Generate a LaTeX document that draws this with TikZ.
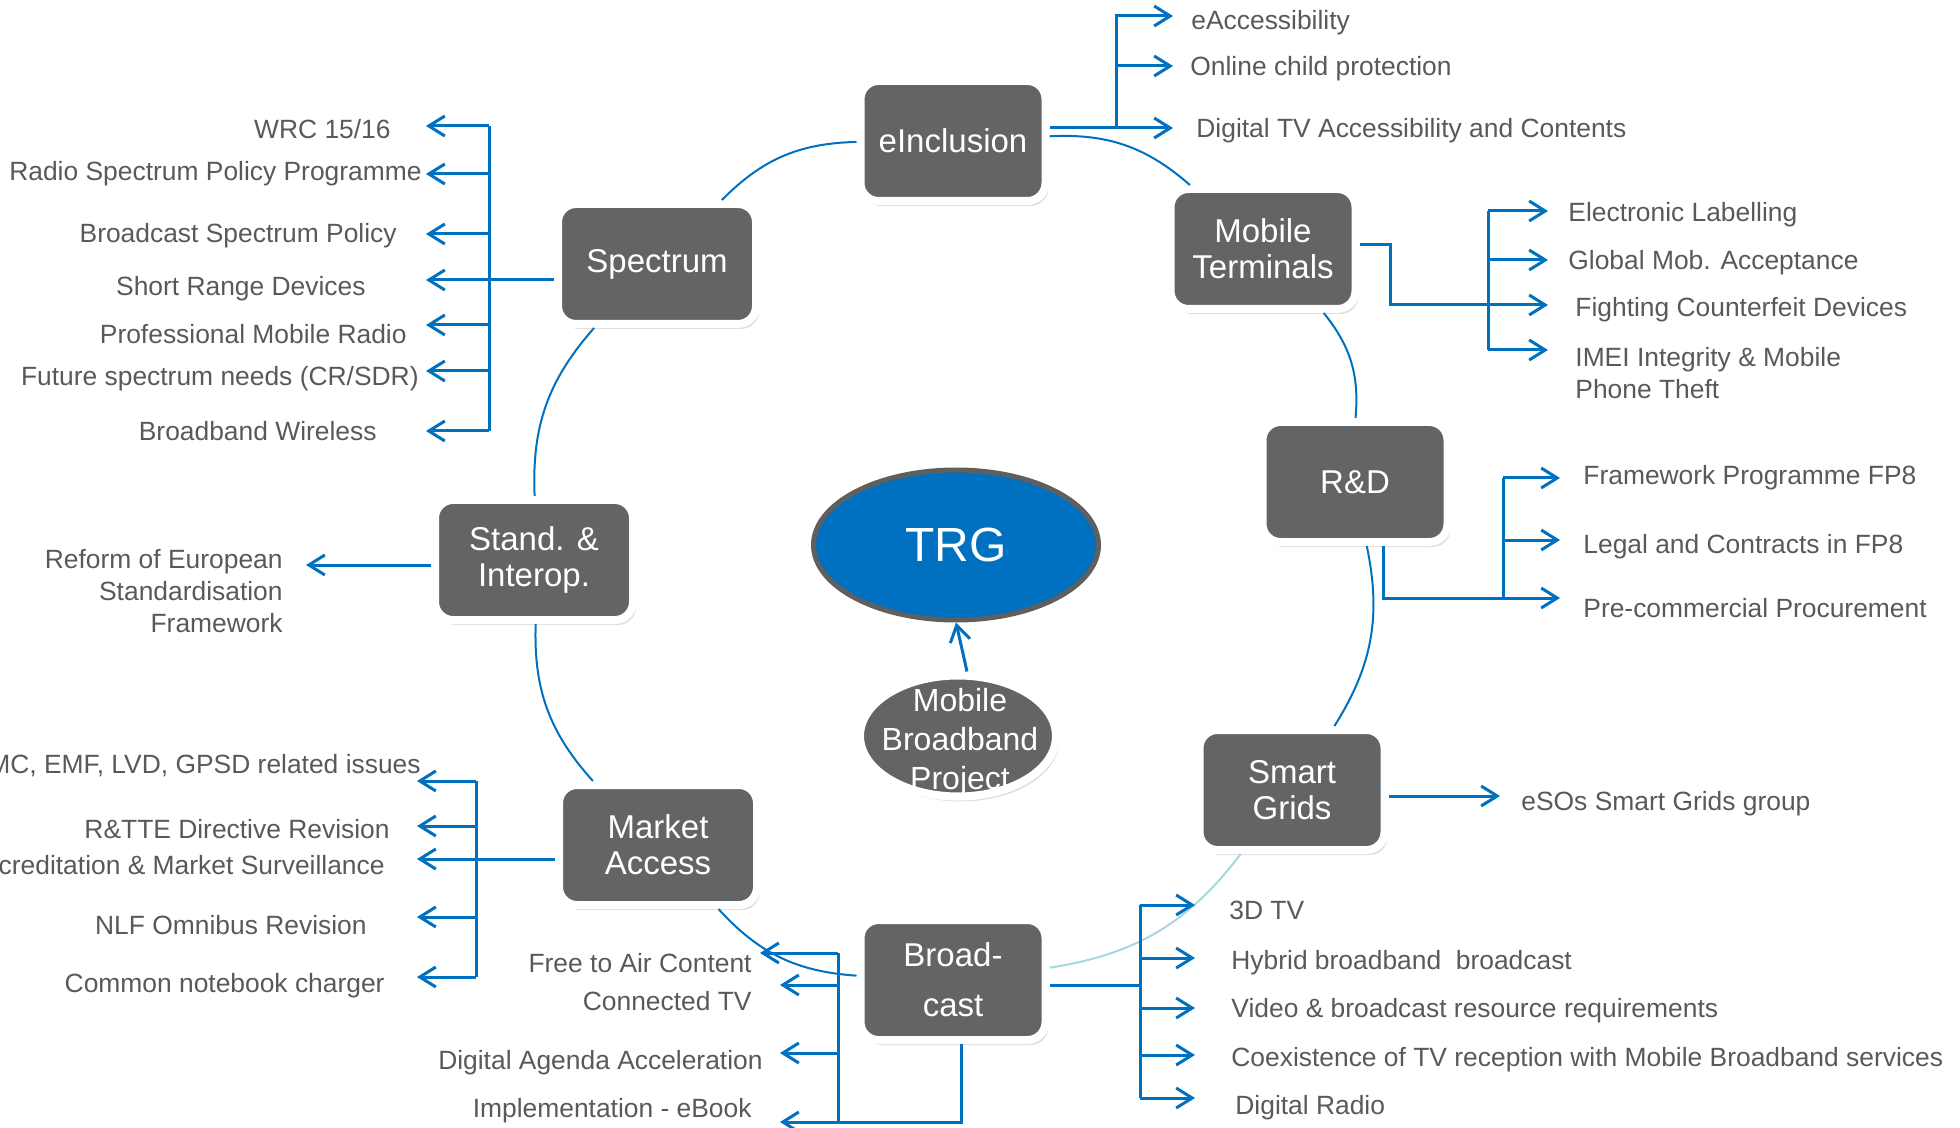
\documentclass[tikz,border=0pt]{standalone}
\usepackage{fontspec}
\setmainfont{Liberation Sans}
\usetikzlibrary{arrows.meta,shapes.geometric,shadows}
\definecolor{trgblue}{RGB}{0,112,192}
\definecolor{boxgray}{RGB}{99,100,102}
\definecolor{txtgray}{RGB}{89,89,89}
\definecolor{ringgray}{RGB}{95,95,95}
\definecolor{arcteal}{RGB}{166,214,222}
\tikzset{
  tbox/.style={rectangle, rounded corners=9pt, fill=boxgray, draw=white,
    line width=4pt, text=white, align=center, inner sep=0pt,
    minimum width=92.5pt, minimum height=60pt,
    font=\fontsize{16.5}{18}\selectfont,
    drop shadow={shadow xshift=1.5pt, shadow yshift=-2.5pt, opacity=0.25}},
  tboxw/.style={tbox, minimum width=99pt},
  lbl/.style={text=txtgray, inner sep=0pt, yshift=-1.5pt, font=\fontsize{13.2}{16}\selectfont},
  branch/.style={draw=trgblue, line width=1.5pt},
  arr/.style={branch, -{Straight Barb[length=8pt,width=10pt]}},
  ring/.style={draw=trgblue, line width=1pt},
}
\begin{document}
\begin{tikzpicture}[x=0.5pt,y=0.5pt]
  \useasboundingbox (0,0) rectangle (1960,-1128);
  \clip (0,0) rectangle (1960,-1128);

  % topics round the circle
  \node[tbox] (einc) at (953,-141) {eInclusion};
  \node[tbox] (mob) at (1263,-249) {Mobile\\Terminals};
  \node[tbox] (rnd) at (1355,-482) {R\&D};
  \node[tbox] (smart) at (1292,-790) {Smart\\Grids};
  \node[tbox, font=\fontsize{16.5}{25}\selectfont] (brd) at (953,-980) {Broad-\\cast};
  \node[tboxw] (mkt) at (658,-845) {Market\\Access};
  \node[tboxw] (std) at (534,-560) {Stand. \&\\Interop.};
  \node[tboxw] (spec) at (657,-264) {Spectrum};

  % centre
  \node[ellipse, fill=trgblue, draw=ringgray, line width=2.5pt,
    minimum width=142.5pt, minimum height=75pt, text=white,
    font=\fontsize{24}{28}\selectfont] (trg) at (956,-545) {TRG};
  \node[ellipse, fill=boxgray, draw=white, line width=4pt,
    minimum width=98pt, minimum height=60.5pt,
    drop shadow={shadow xshift=1.5pt, shadow yshift=-2.5pt, opacity=0.25}] (mbp) at (958,-736) {};
  \node[text=white, align=center, font=\fontsize{16}{19.5}\selectfont] (mbptext) at (960,-742) {Mobile\\Broadband\\Project};
  \draw[arr] ([xshift=4.5pt]mbp.north) -- (trg.south);

  \begin{scope}[ring]
    \draw (spec) to[bend left=22] (einc);
    \draw (einc) to[bend left=22] (mob);
    \draw (mob) to[bend left=22] (rnd);
    \draw (rnd) to[bend left=22] (smart);
    \draw[arcteal] (smart) to[bend left=22] (brd);
    \draw (brd) to[bend left=22] (mkt);
    \draw (mkt) to[bend left=22] (std);
    \draw (std) to[bend left=22] (spec);
  \end{scope}

  % eInclusion
  \coordinate (eij) at (1116,-128);
  \coordinate (ei1) at (1173,-16);
  \coordinate (ei2) at (1173,-66);
  \coordinate (ei3) at (1173,-128);
  \draw[arr] (einc.east |- ei3) -- (ei3);
  \draw[arr] (eij) |- (ei1);
  \draw[arr] (eij |- ei2) -- (ei2);
  \node[lbl, anchor=west] (eacc) at (1191,-20) {eAccessibility};
  \node[lbl, anchor=west] (ocp) at (1190,-66) {Online child protection};
  \node[lbl, anchor=west] (dtv) at (1196,-128) {Digital TV Accessibility and Contents};

  % Spectrum
  \coordinate (spj) at (489,-280);
  \foreach \y [count=\i] in {126,174,234,280,325,371,431}
    \coordinate (sp\i) at (426,-\y);
  \draw[arr] (spec.west |- sp4) -- (sp4);
  \draw[branch] (spj |- sp1) -- (spj |- sp7);
  \foreach \i in {1,2,3,5,6,7}
    \draw[arr] (spj |- sp\i) -- (sp\i);
  \node[lbl, anchor=east] (wrc) at (391,-126) {WRC 15/16};
  \node[lbl, anchor=east] (rspp) at (422,-171) {Radio Spectrum Policy Programme};
  \node[lbl, anchor=east] (bsp) at (397,-233) {Broadcast Spectrum Policy};
  \node[lbl, anchor=east] (srd) at (366,-286) {Short Range Devices};
  \node[lbl, anchor=east] (pmr) at (407,-331) {Professional Mobile Radio};
  \node[lbl, anchor=east] (fsn) at (419,-376) {Future spectrum needs (CR/SDR)};
  \node[lbl, anchor=east] (bbw) at (377,-428) {Broadband Wireless};

  % Mobile Terminals
  \coordinate (mtk) at (1390,-245);
  \coordinate (mtj) at (1488,-305);
  \foreach \y [count=\i] in {211,260,305,350}
    \coordinate (mt\i) at (1548,-\y);
  \draw[arr] (mob.east |- mtk) -- (mtk) |- (mt3);
  \draw[branch] (mtj |- mt1) -- (mtj |- mt4);
  \foreach \i in {1,2,4}
    \draw[arr] (mtj |- mt\i) -- (mt\i);
  \node[lbl, anchor=west] (elab) at (1568,-212) {Electronic Labelling};
  \node[lbl, anchor=west] (gma) at (1568,-260) {Global Mob. Acceptance};
  \node[lbl, anchor=west] (fcd) at (1575,-307) {Fighting Counterfeit Devices};
  \node[lbl, anchor=west, align=left] (imei) at (1575,-370) {IMEI Integrity \& Mobile\\Phone Theft};

  % R&D
  \coordinate (rdk) at (1383,-598);
  \coordinate (rdj) at (1503,-598);
  \foreach \y [count=\i] in {478,540,598}
    \coordinate (rd\i) at (1560,-\y);
  \draw[arr] (rnd.south -| rdk) -- (rdk) -- (rd3);
  \draw[branch] (rdj |- rd1) -- (rdj);
  \foreach \i in {1,2}
    \draw[arr] (rdj |- rd\i) -- (rd\i);
  \node[lbl, anchor=west] (fp8) at (1583,-475) {Framework Programme FP8};
  \node[lbl, anchor=west] (lcf) at (1583,-544) {Legal and Contracts in FP8};
  \node[lbl, anchor=west] (pcp) at (1583,-605) {Pre-commercial Procurement};

  % Smart Grids
  \coordinate (sg1) at (1500,-796);
  \draw[arr] (smart.east |- sg1) -- (sg1);
  \node[lbl, anchor=west] (esos) at (1521,-801) {eSOs Smart Grids group};

  % Stand. & Interop.
  \coordinate (si1) at (306,-565);
  \draw[arr] (std.west |- si1) -- (si1);
  \node[lbl, anchor=east, align=right] (resf) at (283,-588) {Reform of European\\Standardisation\\Framework};

  % Market Access
  \coordinate (maj) at (476,-859);
  \foreach \y [count=\i] in {781,826,859,917,977}
    \coordinate (ma\i) at (417,-\y);
  \draw[arr] (mkt.west |- ma3) -- (ma3);
  \draw[branch] (maj |- ma1) -- (maj |- ma5);
  \foreach \i in {1,2,4,5}
    \draw[arr] (maj |- ma\i) -- (ma\i);
  \node[lbl, anchor=east] (emc) at (421,-763) {EMC, EMF, LVD, GPSD related issues};
  \node[lbl, anchor=east] (rtte) at (390,-826) {R\&TTE Directive Revision};
  \node[lbl, anchor=east] (acms) at (385,-862) {Accreditation \& Market Surveillance};
  \node[lbl, anchor=east] (nlf) at (367,-922) {NLF Omnibus Revision};
  \node[lbl, anchor=east] (cnc) at (385,-983) {Common notebook charger};

  % Broadcast, right
  \coordinate (bcj) at (1140,-985);
  \foreach \y [count=\i] in {905,958,1008,1055,1098}
    \coordinate (bc\i) at (1195,-\y);
  \draw[branch] (brd.east |- bcj) -- (bcj);
  \draw[branch] (bcj |- bc1) -- (bcj |- bc5);
  \foreach \i in {1,...,5}
    \draw[arr] (bcj |- bc\i) -- (bc\i);
  \node[lbl, anchor=west] (tv3d) at (1229,-907) {3D TV};
  \node[lbl, anchor=west] (hbb) at (1231,-960) {Hybrid broadband\ \ broadcast};
  \node[lbl, anchor=west] (vbr) at (1231,-1008) {Video \& broadcast resource requirements};
  \node[lbl, anchor=west] (coex) at (1231,-1057) {Coexistence of TV reception with Mobile Broadband services};
  \node[lbl, anchor=west] (drad) at (1235,-1105) {Digital Radio};

  % Broadcast, left
  \coordinate (blj) at (838,-953);
  \coordinate (blk) at (961,-1122);
  \coordinate (bl1) at (760,-953);
  \coordinate (bl2) at (780,-985);
  \coordinate (bl3) at (780,-1053);
  \coordinate (bl4) at (780,-1122);
  \draw[arr] (brd.south -| blk) -- (blk) -- (bl4);
  \draw[branch] (blj) -- (blj |- bl4);
  \foreach \i in {1,2,3}
    \draw[arr] (blj |- bl\i) -- (bl\i);
  \node[lbl, anchor=east] (fta) at (752,-960) {Free to Air Content};
  \node[lbl, anchor=east] (ctv) at (752,-998) {Connected TV};
  \node[lbl, anchor=east] (daa) at (763,-1060) {Digital Agenda Acceleration};
  \node[lbl, anchor=east] (ieb) at (752,-1108) {Implementation - eBook};
\end{tikzpicture}
\end{document}
